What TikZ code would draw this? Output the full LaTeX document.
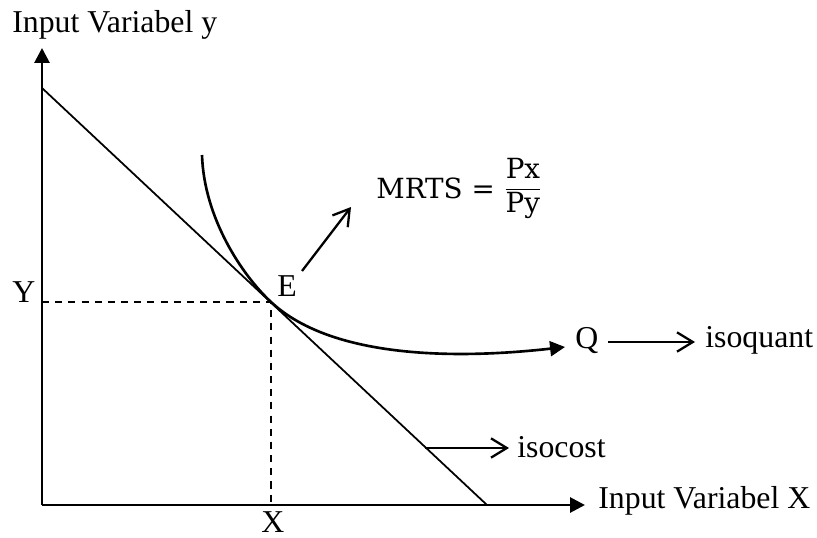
\documentclass[tikz,border=0pt]{standalone}
\usepackage{amsmath}
\usepackage{fontspec}
\setmainfont{Liberation Serif}
\newfontfamily\mrtsfont{DejaVu Serif}
\usetikzlibrary{arrows.meta}

\tikzset{
  lbl/.style={anchor=base west, inner sep=0pt, font=\fontsize{18.1}{21}\selectfont},
  axis/.style={line width=1.6pt, -{Triangle[length=8.5pt,width=8.5pt]}},
  costline/.style={line width=1pt},
  quantline/.style={line width=1.5pt, -{Triangle[length=8.5pt,width=8.5pt]}},
  pointer/.style={line width=1.3pt, -{Straight Barb[length=9pt,width=11pt]}},
  guide/.style={line width=0.9pt, dash pattern=on 4pt off 3.5pt},
}

\begin{document}
\begin{tikzpicture}[x=0.02cm,y=-0.02cm]
	\useasboundingbox (0,0) rectangle (817,537);
	% axes
	\coordinate (O) at (42,505);
	\coordinate (ytip) at (42,48);
	\coordinate (xtip) at (585,505);
	\node[lbl] (ylab) at (12,33) {Input Variabel y};
	\node[lbl] (xlab) at (598,508) {Input Variabel X};
	\draw[axis] (O) -- (ytip);
	\draw[axis] (O) -- (xtip);
	% isocost
	\coordinate (costA) at (42,88);
	\coordinate (costB) at (487,505);
	\coordinate (E) at (271,302);
	\draw[costline] (costA) -- (costB);
	\draw[guide] (E -| O) -- (E) -- (E |- O);
	\node[lbl] (Ylab) at (12,302) {Y};
	\node[lbl] (Xlab) at (261,532) {X};
	\node[lbl] (Elab) at (277,296) {E};
	% isoquant
	\coordinate (qtop) at (202,155);
	\coordinate (qtip) at (565,347);
	\draw[quantline] (qtop) .. controls (204,218) and (242,275) .. (E)
		.. controls (330,357) and (450,360) .. (qtip);
	\node[lbl] (Q) at (575,348) {Q};
	\coordinate (qa) at (608,342);
	\coordinate (qb) at (695,342);
	\draw[pointer] (qa) -- (qb);
	\node[lbl] (isoquant) at (705,347) {isoquant};
	% isocost label
	\coordinate (ca) at (425,448);
	\coordinate (cb) at (509,448);
	\draw[pointer] (ca) -- (cb);
	\node[lbl] (isocost) at (517,457) {isocost};
	% MRTS
	\coordinate (ma) at (302,271);
	\coordinate (mb) at (351,207);
	\draw[pointer] (ma) -- (mb);
	\node[anchor=base west, inner sep=0pt, font=\fontsize{15.8}{19}\selectfont\mrtsfont] (mrts) at (376,198)
		{MRTS = \raisebox{1.5pt}{$\dfrac{\text{Px}}{\text{Py}}$}};
\end{tikzpicture}
\end{document}
